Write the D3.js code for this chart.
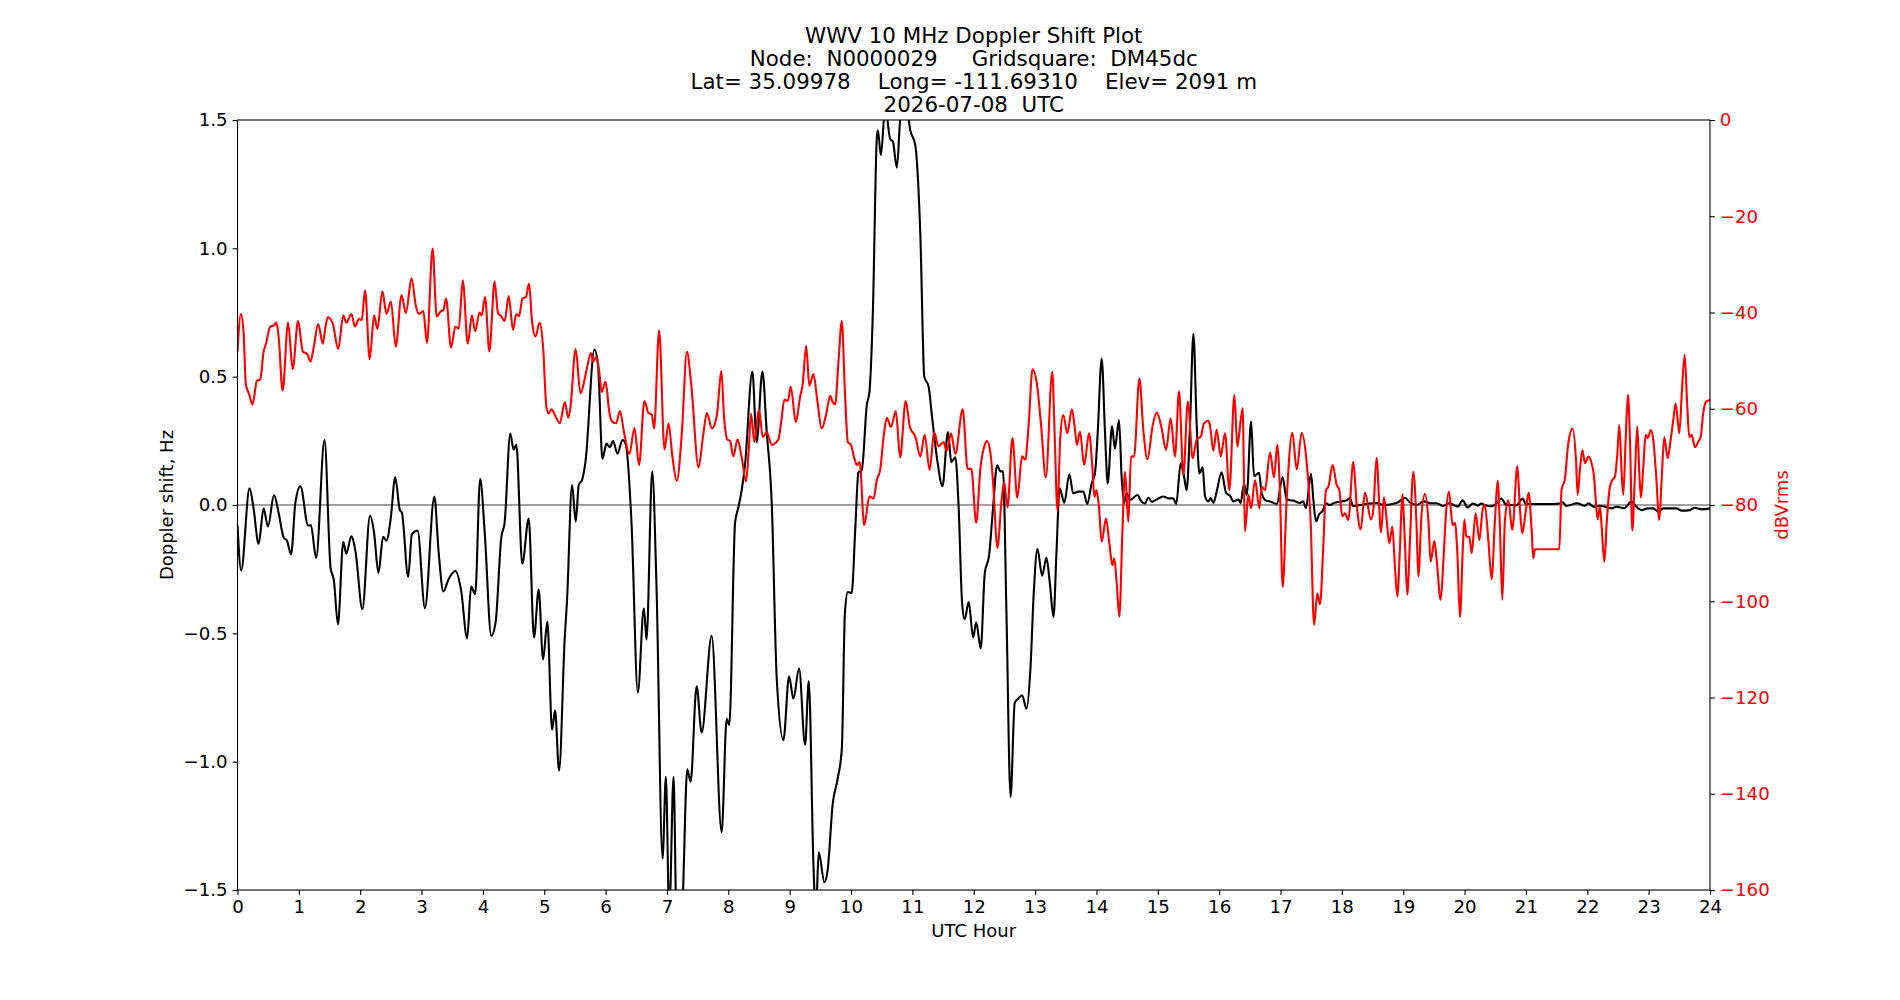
<!DOCTYPE html>
<html>
<head>
<meta charset="utf-8">
<script src="https://cdn.jsdelivr.net/npm/d3@7"></script>
<style>
  body { margin: 0; background: #fff; }
  svg { display: block; font-family: "DejaVu Sans", sans-serif; }
</style>
</head>
<body>
<div id="chart"></div>
<script>
const titleLines = [
  "WWV 10 MHz Doppler Shift Plot",
  "Node:  N0000029     Gridsquare:  DM45dc",
  "Lat= 35.09978    Long= -111.69310    Elev= 2091 m",
  "2026-07-08  UTC"
];
const hourTicks = d3.range(0, 25);
const hzTicks = [-1.5, -1.0, -0.5, 0.0, 0.5, 1.0, 1.5];
const dbTicks = [0, -20, -40, -60, -80, -100, -120, -140, -160];

// Doppler shift (black), hours / Hz
const dopplerHours = [0,0.06,0.196,0.26,0.344,0.426,0.496,0.595,0.67,0.753,0.807,0.873,0.944,1.026,1.151,1.195,1.282,1.418,1.517,1.571,1.637,1.724,1.773,1.855,1.926,2.035,2.16,2.226,2.297,2.373,2.428,2.499,2.57,2.646,2.679,2.782,2.842,2.935,3.055,3.208,3.279,3.355,3.442,3.552,3.645,3.743,3.808,3.874,3.955,4.03,4.136,4.207,4.299,4.354,4.446,4.5,4.544,4.642,4.746,4.833,4.909,4.98,5.05,5.127,5.176,5.241,5.333,5.371,5.453,5.513,5.562,5.616,5.671,5.818,5.878,5.948,6.014,6.068,6.122,6.193,6.275,6.329,6.422,6.525,6.623,6.667,6.759,6.83,6.928,6.982,7.037,7.107,7.156,7.238,7.331,7.385,7.483,7.565,7.728,7.891,7.973,8.016,8.11,8.163,8.218,8.272,8.392,8.462,8.555,8.626,8.707,8.789,8.898,8.99,9.06,9.153,9.251,9.311,9.387,9.425,9.474,9.566,9.62,9.7,9.78,9.85,9.9,9.948,10.01,10.07,10.12,10.176,10.258,10.3,10.356,10.42,10.437,10.486,10.557,10.64,10.68,10.747,10.8,10.88,10.965,11.047,11.13,11.194,11.265,11.32,11.41,11.49,11.58,11.634,11.7,11.754,11.81,11.852,11.918,11.99,12.04,12.114,12.18,12.25,12.315,12.38,12.435,12.478,12.533,12.6,12.668,12.723,12.788,12.86,12.924,12.978,13.038,13.114,13.185,13.24,13.3,13.348,13.4,13.476,13.558,13.62,13.705,13.786,13.85,13.922,13.976,14.02,14.085,14.14,14.183,14.254,14.3,14.368,14.41,14.45,14.493,14.55,14.666,14.737,14.79,14.846,14.9,14.982,15.09,15.17,15.25,15.3,15.373,15.428,15.47,15.525,15.58,15.634,15.677,15.73,15.77,15.824,15.862,15.905,15.96,16.04,16.112,16.177,16.23,16.313,16.35,16.405,16.45,16.52,16.568,16.65,16.693,16.764,16.83,16.94,17.035,17.1,17.21,17.318,17.37,17.415,17.497,17.535,17.578,17.63,17.686,17.74,17.8,17.86,17.996,18.078,18.13,18.186,18.3,18.4,18.566,18.675,18.89,19.03,19.11,19.22,19.33,19.44,19.545,19.65,19.76,19.82,19.89,19.968,20.05,20.136,20.22,20.27,20.35,20.44,20.517,20.6,20.68,20.76,20.84,20.946,21.0,21.12,21.4,21.55,21.6,21.66,21.83,21.96,22.02,22.1,22.2,22.3,22.4,22.48,22.6,22.72,22.8,22.886,22.99,23.07,23.16,23.24,23.35,23.45,23.54,23.67,23.75,23.86,24.0];
const dopplerHz = [-0.08,-0.255,0.065,-0.01,-0.151,-0.014,-0.084,0.039,-0.03,-0.127,-0.139,-0.192,0.01,0.073,-0.08,-0.078,-0.206,0.253,-0.245,-0.294,-0.465,-0.143,-0.19,-0.122,-0.186,-0.406,-0.041,-0.108,-0.265,-0.124,-0.139,-0.049,0.108,-0.02,-0.03,-0.28,-0.114,-0.1,-0.402,0.033,-0.186,-0.337,-0.288,-0.257,-0.333,-0.52,-0.318,-0.347,0.102,-0.11,-0.51,-0.457,-0.127,-0.069,0.278,0.216,0.235,-0.229,-0.053,-0.516,-0.329,-0.602,-0.455,-0.876,-0.8,-1.035,-0.52,-0.373,0.078,-0.065,0.078,0.098,0.167,0.606,0.539,0.18,0.239,0.225,0.249,0.2,0.253,0.235,-0.069,-0.731,-0.402,-0.524,0.131,-0.324,-1.378,-1.059,-1.6,-1.059,-1.6,-1.6,-1.03,-1.078,-0.706,-0.886,-0.51,-1.275,-0.833,-0.857,-0.069,-0.01,0.059,0.157,0.52,0.245,0.52,0.284,0.01,-0.676,-0.916,-0.667,-0.755,-0.637,-0.935,-0.686,-1.4,-1.6,-1.353,-1.47,-1.42,-1.167,-1.069,-0.95,-0.42,-0.339,-0.343,-0.088,0.127,0.137,0.392,0.441,0.755,1.43,1.46,1.363,1.55,1.425,1.418,1.314,1.5,1.6,1.46,1.402,1.049,0.5,0.461,0.343,0.167,0.073,0.284,0.167,0.186,-0.01,-0.382,-0.445,-0.378,-0.516,-0.457,-0.559,-0.265,-0.196,-0.01,0.155,0.131,0.131,-0.422,-1.137,-0.771,-0.755,-0.741,-0.794,-0.637,-0.343,-0.171,-0.275,-0.206,-0.304,-0.437,-0.186,0.065,0.009,0.121,0.046,0.052,0.052,0.004,0.084,0.123,0.279,0.571,0.279,0.084,0.308,0.22,0.331,0.11,0.009,0.046,0.02,0.039,0.013,0.006,0.029,0.013,0.022,0.033,0.026,0.026,0.004,0.162,0.11,0.058,0.31,0.667,0.31,0.123,0.147,0.034,0.014,0.027,0.008,0.053,0.127,0.047,0.036,0.014,0.021,0.008,0.083,0.04,0.326,0.112,0.125,0.047,0.017,0.014,0.004,0.109,0.021,0.017,0.008,0.014,-0.012,0.122,0.021,-0.064,-0.036,-0.023,0.007,0,0.007,0.014,0.018,0.027,-0.005,0,0.004,0.008,0,0.008,0.027,0.01,0,0.014,0.007,0.007,-0.004,0.008,0,-0.006,0.018,-0.01,0.006,-0.002,0.006,-0.002,-0.005,0.006,0.025,0,0,-0.002,0.025,0.004,0.004,0.004,0.006,0.011,-0.004,0.007,-0.003,0.007,-0.007,-0.003,-0.007,-0.013,-0.007,-0.013,0.013,-0.007,-0.02,-0.013,-0.013,-0.026,-0.013,-0.013,-0.013,-0.022,-0.02,-0.011,-0.017,-0.013];

// Received level (red), hours / dBVrms
const powerHours = [0,0.055,0.098,0.136,0.19,0.245,0.316,0.37,0.426,0.464,0.535,0.59,0.633,0.67,0.736,0.824,0.9,0.987,1.064,1.135,1.19,1.244,1.315,1.39,1.435,1.473,1.555,1.642,1.724,1.773,1.855,1.915,1.98,2.024,2.079,2.155,2.226,2.28,2.362,2.428,2.5,2.58,2.673,2.744,2.837,2.908,2.962,3.028,3.088,3.18,3.246,3.317,3.355,3.4,3.48,3.552,3.606,3.672,3.753,3.82,3.874,3.944,3.98,4.035,4.105,4.19,4.245,4.3,4.354,4.42,4.49,4.545,4.59,4.643,4.7,4.752,4.8,4.856,4.926,4.98,5.035,5.074,5.117,5.188,5.253,5.335,5.39,5.428,5.51,5.591,5.662,5.7,5.76,5.798,5.85,5.896,5.935,6.0,6.06,6.1,6.17,6.234,6.3,6.387,6.47,6.545,6.632,6.698,6.752,6.79,6.872,6.96,7.025,7.09,7.16,7.243,7.324,7.395,7.515,7.586,7.65,7.733,7.815,7.886,7.93,7.984,8.03,8.08,8.15,8.218,8.29,8.33,8.37,8.424,8.5,8.56,8.626,8.707,8.816,8.86,8.914,8.97,9.017,9.1,9.17,9.213,9.268,9.32,9.387,9.453,9.523,9.594,9.66,9.7,9.74,9.795,9.85,9.9,9.948,9.997,10.05,10.095,10.14,10.215,10.3,10.367,10.42,10.475,10.53,10.584,10.65,10.73,10.8,10.89,10.96,11.05,11.13,11.2,11.28,11.355,11.425,11.507,11.56,11.63,11.7,11.82,11.9,11.96,12.04,12.11,12.18,12.217,12.27,12.315,12.386,12.45,12.495,12.55,12.63,12.71,12.788,12.84,12.897,12.957,13.03,13.1,13.174,13.28,13.32,13.364,13.41,13.46,13.525,13.6,13.65,13.68,13.732,13.8,13.879,13.933,13.966,14.0,14.04,14.085,14.156,14.21,14.26,14.29,14.33,14.373,14.422,14.465,14.52,14.563,14.612,14.7,14.764,14.83,14.917,14.982,15.063,15.134,15.21,15.28,15.346,15.416,15.49,15.568,15.634,15.7,15.753,15.824,15.85,15.905,15.96,16.025,16.095,16.166,16.248,16.296,16.32,16.383,16.42,16.476,16.52,16.585,16.655,16.693,16.747,16.83,16.894,16.948,16.99,17.035,17.1,17.193,17.264,17.345,17.427,17.49,17.547,17.6,17.643,17.697,17.74,17.78,17.85,17.915,17.958,18.007,18.05,18.105,18.186,18.24,18.306,18.377,18.474,18.512,18.566,18.637,18.686,18.73,18.773,18.822,18.865,18.904,18.947,18.985,19.03,19.066,19.11,19.164,19.218,19.246,19.3,19.354,19.41,19.447,19.507,19.545,19.61,19.653,19.697,19.746,19.805,19.843,19.882,19.925,19.968,19.996,20.03,20.077,20.115,20.18,20.24,20.294,20.33,20.387,20.441,20.495,20.539,20.577,20.615,20.658,20.713,20.778,20.86,20.9,20.94,21.0,21.044,21.093,21.12,21.147,21.544,21.58,21.636,21.69,21.76,21.816,21.843,21.88,21.92,21.963,22.017,22.07,22.11,22.142,22.17,22.207,22.234,22.278,22.316,22.36,22.397,22.45,22.49,22.522,22.56,22.587,22.625,22.663,22.696,22.734,22.777,22.815,22.848,22.875,22.913,22.951,22.984,23.038,23.076,23.12,23.174,23.212,23.255,23.31,23.358,23.402,23.44,23.5,23.543,23.587,23.63,23.663,23.7,23.755,23.81,23.848,23.89,23.935,24.0];
const powerDb = [-48.1,-40.3,-43.9,-54.9,-57.0,-59.1,-54.2,-53.9,-48.1,-46.5,-42.9,-42.7,-42.1,-45.0,-56.2,-42.1,-51.8,-41.8,-48.1,-48.6,-50.2,-47.1,-42.4,-46.5,-42.9,-41.0,-42.4,-47.6,-40.6,-42.1,-40.3,-42.9,-41.3,-41.6,-35.4,-49.7,-40.6,-43.4,-35.6,-40.3,-37.7,-47.1,-36.4,-40.1,-32.9,-38.7,-40.3,-39.7,-46.3,-26.7,-40.8,-39.7,-39.5,-37.1,-47.3,-42.9,-43.4,-33.3,-46.5,-40.6,-43.9,-40.0,-40.6,-36.8,-48.1,-33.5,-40.1,-40.8,-41.8,-36.6,-43.6,-40.3,-40.8,-37.1,-36.8,-34.0,-41.8,-45.0,-42.1,-47.1,-59.6,-61.0,-60.1,-61.7,-63.0,-58.6,-61.9,-59.6,-47.6,-56.8,-53.6,-51.3,-48.4,-50.2,-49.2,-52.3,-56.5,-54.4,-60.7,-62.6,-63.0,-60.5,-64.9,-69.4,-64.0,-71.7,-58.4,-60.9,-61.2,-64.1,-43.7,-68.5,-63.0,-70.1,-75.0,-64.9,-48.1,-54.9,-72.2,-65.9,-60.9,-64.1,-61.2,-52.1,-61.7,-66.4,-66.7,-69.9,-66.4,-70.1,-75.1,-69.0,-61.0,-66.9,-60.1,-65.9,-64.9,-67.5,-66.4,-62.8,-58.1,-58.4,-55.4,-62.8,-57.5,-54.9,-46.9,-55.2,-52.8,-58.6,-64.1,-61.2,-57.3,-58.6,-59.1,-50.2,-41.8,-56.5,-66.9,-67.5,-70.1,-71.7,-71.1,-84.2,-78.2,-78.7,-74.8,-72.7,-65.9,-61.9,-63.8,-60.5,-70.1,-58.4,-63.8,-65.9,-69.9,-65.4,-72.7,-64.9,-67.8,-66.9,-68.8,-65.1,-69.4,-60.1,-72.5,-72.5,-83.7,-72.2,-67.5,-66.7,-69.0,-75.3,-88.9,-79.5,-75.3,-80.5,-66.1,-78.5,-69.9,-70.6,-62.8,-51.8,-54.9,-63.8,-74.3,-52.3,-65.9,-81.1,-66.0,-61.3,-65.1,-60.1,-64.4,-67.5,-64.8,-71.7,-65.1,-72.0,-78.3,-76.9,-80.3,-87.6,-82.8,-87.95,-92.5,-91.1,-96.3,-103.2,-85.9,-73.1,-83.5,-69.95,-69.95,-53.7,-64.4,-70.5,-63.4,-60.8,-64.1,-68.6,-62.0,-69.95,-56.4,-73.8,-58.5,-70.3,-66.4,-65.8,-63.0,-62.5,-63.4,-68.7,-64.3,-69.9,-65.1,-76.9,-57.1,-67.9,-66.0,-59.9,-85.5,-77.9,-80.7,-74.8,-80.7,-76.2,-76.9,-69.1,-74.3,-67.5,-76.9,-97.0,-78.9,-65.0,-72.6,-65.0,-71.3,-83.1,-104.9,-98.4,-100.6,-88.7,-76.9,-76.2,-71.7,-75.8,-76.9,-82.4,-81.7,-83.1,-71.0,-79.7,-85.1,-77.4,-83.0,-81.0,-70.2,-85.7,-78.4,-83.1,-88.0,-84.5,-92.8,-99.0,-88.7,-77.7,-88.7,-98.7,-87.3,-73.1,-84.5,-94.9,-81.7,-77.7,-83.1,-91.8,-87.5,-91.4,-99.7,-92.1,-81.7,-77.2,-84.2,-83.7,-90.0,-103.3,-90.0,-83.0,-86.6,-86.6,-90.0,-81.7,-87.3,-81.0,-80.0,-87.3,-95.4,-83.1,-74.9,-85.2,-99.7,-83.1,-79.0,-85.2,-71.9,-80.3,-85.9,-81.0,-77.4,-85.2,-91.1,-89.2,-89.2,-76.9,-74.5,-67.2,-64.1,-70.7,-77.9,-72.7,-68.6,-71.3,-69.95,-71.3,-74.1,-79.6,-83.0,-80.3,-84.5,-91.8,-83.8,-76.9,-75.1,-74.1,-69.3,-63.4,-73.4,-77.9,-66.5,-57.1,-66.5,-85.3,-73.4,-63.7,-73.4,-78.5,-72.0,-65.4,-66.1,-64.4,-66.5,-73.4,-83.1,-74.8,-65.9,-70.3,-66.5,-62.3,-58.9,-65.1,-56.1,-48.8,-59.6,-65.9,-65.4,-68.0,-66.8,-65.8,-60.9,-58.5,-58.2];

const width = 1900, height = 1000;
const plotLeft = 237.5, plotRight = 1710, plotTop = 120, plotBottom = 890;

const svg = d3.select("#chart").append("svg")
  .attr("width", width)
  .attr("height", height);

const x = d3.scaleLinear().domain([0, 24]).range([plotLeft, plotRight]);
const yHz = d3.scaleLinear().domain([-1.5, 1.5]).range([plotBottom, plotTop]);
const yDb = d3.scaleLinear().domain([-160, 0]).range([plotBottom, plotTop]);

svg.append("clipPath").attr("id", "plot-clip")
  .append("rect")
  .attr("x", plotLeft).attr("y", plotTop)
  .attr("width", plotRight - plotLeft).attr("height", plotBottom - plotTop);

const plot = svg.append("g").attr("clip-path", "url(#plot-clip)");

// zero reference line
plot.append("line")
  .attr("x1", plotLeft).attr("x2", plotRight)
  .attr("y1", yHz(0)).attr("y2", yHz(0))
  .attr("stroke", "#808080")
  .attr("stroke-width", 1.3);

const dopplerLine = d3.line()
  .x(i => x(dopplerHours[i]))
  .y(i => yHz(dopplerHz[i]))
  .curve(d3.curveMonotoneX);

const powerLine = d3.line()
  .x(i => x(powerHours[i]))
  .y(i => yDb(powerDb[i]))
  .curve(d3.curveMonotoneX);

plot.append("path")
  .attr("d", dopplerLine(d3.range(dopplerHours.length)))
  .attr("fill", "none")
  .attr("stroke", "#000")
  .attr("stroke-width", 2.1)
  .attr("stroke-linejoin", "round");

plot.append("path")
  .attr("d", powerLine(d3.range(powerHours.length)))
  .attr("fill", "none")
  .attr("stroke", "#ff0000")
  .attr("stroke-width", 2.1)
  .attr("stroke-linejoin", "round");

// axes
const tickFont = 18.2;
const tickLen = 4.9;

const xAxis = svg.append("g")
  .attr("transform", `translate(0,${plotBottom})`)
  .call(d3.axisBottom(x).tickValues(hourTicks).tickFormat(d3.format("d"))
    .tickSize(tickLen).tickPadding(4.9));

const yAxisL = svg.append("g")
  .attr("transform", `translate(${plotLeft},0)`)
  .call(d3.axisLeft(yHz).tickValues(hzTicks).tickFormat(d3.format(".1f"))
    .tickSize(tickLen).tickPadding(4.9));

const yAxisR = svg.append("g")
  .attr("transform", `translate(${plotRight},0)`)
  .call(d3.axisRight(yDb).tickValues(dbTicks).tickFormat(d3.format("d"))
    .tickSize(tickLen).tickPadding(4.9));

[xAxis, yAxisL, yAxisR].forEach(g => {
  g.select(".domain").remove();
  g.selectAll(".tick line").attr("stroke", "#000").attr("stroke-width", 1.1);
  g.selectAll(".tick text")
    .attr("font-family", "DejaVu Sans")
    .attr("font-size", tickFont)
    .attr("fill", "#000");
});
yAxisR.selectAll(".tick text").attr("fill", "#ff0000");

// frame
svg.append("rect")
  .attr("x", plotLeft).attr("y", plotTop)
  .attr("width", plotRight - plotLeft).attr("height", plotBottom - plotTop)
  .attr("fill", "none")
  .attr("stroke", "#000")
  .attr("stroke-width", 1.1);

// labels
svg.append("text")
  .attr("x", (plotLeft + plotRight) / 2).attr("y", 937)
  .attr("text-anchor", "middle")
  .attr("font-size", 18)
  .text("UTC Hour");

svg.append("text")
  .attr("transform", `translate(173,${(plotTop + plotBottom) / 2}) rotate(-90)`)
  .attr("text-anchor", "middle")
  .attr("font-size", 18)
  .text("Doppler shift, Hz");

svg.append("text")
  .attr("transform", `translate(1788,${(plotTop + plotBottom) / 2}) rotate(-90)`)
  .attr("text-anchor", "middle")
  .attr("font-size", 18)
  .attr("fill", "#ff0000")
  .text("dBVrms");

svg.append("g").selectAll("text")
  .data(titleLines)
  .join("text")
  .attr("x", (plotLeft + plotRight) / 2)
  .attr("y", (d, i) => 42.5 + i * 23.1)
  .attr("text-anchor", "middle")
  .attr("font-size", 21.4)
  .style("white-space", "pre")
  .attr("xml:space", "preserve")
  .text(d => d);
</script>
</body>
</html>
